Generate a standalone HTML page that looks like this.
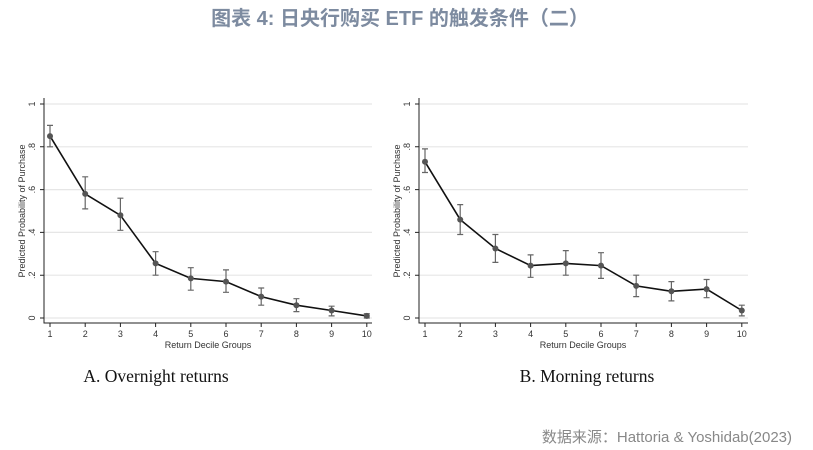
<!DOCTYPE html><html><head><meta charset="utf-8"><style>body{margin:0;background:#fff}svg{display:block}</style></head><body>
<svg width="813" height="450" xmlns="http://www.w3.org/2000/svg" font-family="Liberation Sans, sans-serif">
<text x="400" y="25" text-anchor="middle" font-size="20" font-weight="bold" fill="#7d8ba0" font-family="Liberation Sans, Noto Sans CJK SC, sans-serif">图表 4: 日央行购买 ETF 的触发条件（二）</text>
<g stroke="#e6e6e6" stroke-width="1.2">
<line x1="44" x2="372" y1="104" y2="104"/><line x1="44" x2="372" y1="146.8" y2="146.8"/><line x1="44" x2="372" y1="189.6" y2="189.6"/><line x1="44" x2="372" y1="232.4" y2="232.4"/><line x1="44" x2="372" y1="275.2" y2="275.2"/><line x1="44" x2="372" y1="318" y2="318"/>
<line x1="419" x2="748" y1="104" y2="104"/><line x1="419" x2="748" y1="146.8" y2="146.8"/><line x1="419" x2="748" y1="189.6" y2="189.6"/><line x1="419" x2="748" y1="232.4" y2="232.4"/><line x1="419" x2="748" y1="275.2" y2="275.2"/><line x1="419" x2="748" y1="318" y2="318"/>
</g>
<g stroke="#222" stroke-width="1" fill="none">
<path d="M44 98V323H372M419 98V323H748"/>
<path d="M44 104h-4M44 146.8h-4M44 189.6h-4M44 232.4h-4M44 275.2h-4M44 318h-4M419 104h-4M419 146.8h-4M419 189.6h-4M419 232.4h-4M419 275.2h-4M419 318h-4"/>
<path d="M50 323v4M85.2 323v4M120.4 323v4M155.6 323v4M190.8 323v4M226 323v4M261.2 323v4M296.4 323v4M331.6 323v4M366.8 323v4M425 323v4M460.2 323v4M495.4 323v4M530.6 323v4M565.8 323v4M601 323v4M636.2 323v4M671.4 323v4M706.6 323v4M741.8 323v4"/>
</g>
<g font-size="9" fill="#333" text-anchor="middle">
<text transform="translate(35,104) rotate(-90)">1</text><text transform="translate(35,146.8) rotate(-90)">.8</text><text transform="translate(35,189.6) rotate(-90)">.6</text><text transform="translate(35,232.4) rotate(-90)">.4</text><text transform="translate(35,275.2) rotate(-90)">.2</text><text transform="translate(35,318) rotate(-90)">0</text>
<text transform="translate(410,104) rotate(-90)">1</text><text transform="translate(410,146.8) rotate(-90)">.8</text><text transform="translate(410,189.6) rotate(-90)">.6</text><text transform="translate(410,232.4) rotate(-90)">.4</text><text transform="translate(410,275.2) rotate(-90)">.2</text><text transform="translate(410,318) rotate(-90)">0</text>
<text transform="translate(25,211) rotate(-90)">Predicted Probability of Purchase</text>
<text transform="translate(400,211) rotate(-90)">Predicted Probability of Purchase</text>
<text x="50" y="337">1</text><text x="85.2" y="337">2</text><text x="120.4" y="337">3</text><text x="155.6" y="337">4</text><text x="190.8" y="337">5</text><text x="226" y="337">6</text><text x="261.2" y="337">7</text><text x="296.4" y="337">8</text><text x="331.6" y="337">9</text><text x="366.8" y="337">10</text>
<text x="425" y="337">1</text><text x="460.2" y="337">2</text><text x="495.4" y="337">3</text><text x="530.6" y="337">4</text><text x="565.8" y="337">5</text><text x="601" y="337">6</text><text x="636.2" y="337">7</text><text x="671.4" y="337">8</text><text x="706.6" y="337">9</text><text x="741.8" y="337">10</text>
<text x="208" y="348">Return Decile Groups</text><text x="583" y="348">Return Decile Groups</text>
</g>
<g stroke="#666" stroke-width="1.2" fill="none">
<path d="M50 146.8V125.4M47 146.8h6M47 125.4h6M85.2 208.9V176.8M82.2 208.9h6M82.2 176.8h6M120.4 230.3V198.2M117.4 230.3h6M117.4 198.2h6M155.6 275.2V251.7M152.6 275.2h6M152.6 251.7h6M190.8 290.2V267.7M187.8 290.2h6M187.8 267.7h6M226 292.3V269.9M223 292.3h6M223 269.9h6M261.2 305.2V288M258.2 305.2h6M258.2 288h6M296.4 311.6V298.7M293.4 311.6h6M293.4 298.7h6M331.6 315.9V306.2M328.6 315.9h6M328.6 306.2h6M366.8 318V313.7M363.8 318h6M363.8 313.7h6"/>
<path d="M425 172.5V148.9M422 172.5h6M422 148.9h6M460.2 234.5V204.6M457.2 234.5h6M457.2 204.6h6M495.4 262.4V234.5M492.4 262.4h6M492.4 234.5h6M530.6 277.3V254.9M527.6 277.3h6M527.6 254.9h6M565.8 275.2V250.6M562.8 275.2h6M562.8 250.6h6M601 278.4V252.7M598 278.4h6M598 252.7h6M636.2 296.6V275.2M633.2 296.6h6M633.2 275.2h6M671.4 300.9V281.6M668.4 300.9h6M668.4 281.6h6M706.6 297.7V279.5M703.6 297.7h6M703.6 279.5h6M741.8 315.9V305.2M738.8 315.9h6M738.8 305.2h6"/>
</g>
<g stroke="#111" stroke-width="1.6" fill="none">
<polyline points="50,136.1 85.2,193.9 120.4,215.3 155.6,263.4 190.8,278.4 226,281.6 261.2,296.6 296.4,305.2 331.6,310.5 366.8,315.9"/>
<polyline points="425,161.8 460.2,219.6 495.4,248.5 530.6,265.6 565.8,263.4 601,265.6 636.2,285.9 671.4,291.3 706.6,289.1 741.8,310.5"/>
</g>
<g fill="#555">
<circle cx="50" cy="136.1" r="3"/><circle cx="85.2" cy="193.9" r="3"/><circle cx="120.4" cy="215.3" r="3"/><circle cx="155.6" cy="263.4" r="3"/><circle cx="190.8" cy="278.4" r="3"/><circle cx="226" cy="281.6" r="3"/><circle cx="261.2" cy="296.6" r="3"/><circle cx="296.4" cy="305.2" r="3"/><circle cx="331.6" cy="310.5" r="3"/><circle cx="366.8" cy="315.9" r="3"/>
<circle cx="425" cy="161.8" r="3"/><circle cx="460.2" cy="219.6" r="3"/><circle cx="495.4" cy="248.5" r="3"/><circle cx="530.6" cy="265.6" r="3"/><circle cx="565.8" cy="263.4" r="3"/><circle cx="601" cy="265.6" r="3"/><circle cx="636.2" cy="285.9" r="3"/><circle cx="671.4" cy="291.3" r="3"/><circle cx="706.6" cy="289.1" r="3"/><circle cx="741.8" cy="310.5" r="3"/>
</g>
<g font-family="Liberation Serif, serif" font-size="17.5" fill="#111" text-anchor="middle">
<text x="156" y="382">A. Overnight returns</text><text x="587" y="382">B. Morning returns</text>
</g>
<text x="792" y="442" text-anchor="end" font-size="15" fill="#888" font-family="Liberation Sans, Noto Sans CJK SC, sans-serif">数据来源：Hattoria &amp; Yoshidab(2023)</text>
</svg>
</body></html>
